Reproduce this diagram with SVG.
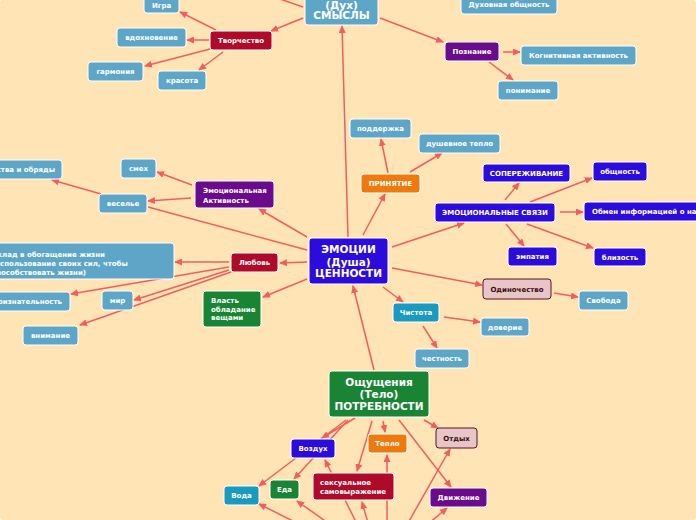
<svg xmlns="http://www.w3.org/2000/svg" width="696" height="520" viewBox="0 0 696 520">
<defs>
<marker id="ah" markerWidth="8" markerHeight="7" refX="7" refY="3.5" orient="auto" markerUnits="userSpaceOnUse"><path d="M0,0 L8,3.5 L0,7 z" fill="#f25e5e"/></marker>
<style>
.c line{stroke:#f25e5e;stroke-width:1.5;fill:none}
.c line.a{marker-end:url(#ah)}
rect{stroke:#ffffff;stroke-width:1;rx:3;ry:3}
text{font-family:"DejaVu Sans",Verdana,sans-serif;font-weight:bold;font-size:7px;fill:#ffffff;text-anchor:middle}
text.l{text-anchor:start}
text.e{text-anchor:end}
text.big{font-size:10.5px}
.sb{fill:#5ea6c8}
.bl{fill:#2c0cdc}
.pu{fill:#6a0a8c}
.cr{fill:#b00a2a}
.or{fill:#ee7a0e}
.gr{fill:#1a8435}
.te{fill:#1a9abf}
.pk{fill:#e8c6c8;stroke:#5a1020}
text.dk{fill:#3a0a12}
</style>
</defs>
<rect x="0" y="0" width="696" height="520" style="fill:#ffe4b5;stroke:none"/>
<g id="connectors" class="c">
<line x1="277" y1="-2" x2="303" y2="7"/>
<line class="a" x1="303" y1="18" x2="271" y2="31"/>
<line class="a" x1="216" y1="30" x2="180" y2="12"/>
<line class="a" x1="209" y1="40" x2="187" y2="40"/>
<line class="a" x1="210" y1="49" x2="145" y2="66"/>
<line class="a" x1="223" y1="52" x2="199" y2="70"/>
<line class="a" x1="380" y1="18" x2="443" y2="42"/>
<line class="a" x1="503" y1="52" x2="520" y2="52"/>
<line class="a" x1="489" y1="62" x2="513" y2="80"/>
<line class="a" x1="348" y1="237" x2="342" y2="26"/>
<line class="a" x1="363" y1="235" x2="385" y2="194"/>
<line class="a" x1="388" y1="173" x2="381" y2="139"/>
<line class="a" x1="410" y1="172" x2="442" y2="153"/>
<line class="a" x1="392" y1="247" x2="464" y2="223"/>
<line class="a" x1="505" y1="200" x2="519" y2="183"/>
<line class="a" x1="530" y1="202" x2="592" y2="178"/>
<line class="a" x1="560" y1="212" x2="583" y2="212"/>
<line class="a" x1="506" y1="224" x2="524" y2="246"/>
<line class="a" x1="527" y1="224" x2="593" y2="248"/>
<line class="a" x1="392" y1="268" x2="482" y2="285"/>
<line class="a" x1="554" y1="293" x2="578" y2="297"/>
<line class="a" x1="383" y1="287" x2="403" y2="302"/>
<line class="a" x1="444" y1="317" x2="480" y2="322"/>
<line class="a" x1="423" y1="326" x2="437" y2="348"/>
<line class="a" x1="307" y1="237" x2="259" y2="209"/>
<line class="a" x1="192" y1="185" x2="157" y2="172"/>
<line class="a" x1="191" y1="198" x2="148" y2="201"/>
<line class="a" x1="101" y1="194" x2="52" y2="180"/>
<line x1="148" y1="207" x2="307" y2="250"/>
<line class="a" x1="307" y1="262" x2="280" y2="263"/>
<line class="a" x1="229" y1="262" x2="175" y2="262"/>
<line class="a" x1="229" y1="267" x2="71" y2="294"/>
<line class="a" x1="229" y1="270" x2="134" y2="300"/>
<line class="a" x1="231" y1="272" x2="80" y2="325"/>
<line class="a" x1="307" y1="279" x2="263" y2="297"/>
<line class="a" x1="374" y1="370" x2="353" y2="286"/>
<line class="a" x1="346" y1="420" x2="259" y2="486"/>
<line class="a" x1="348" y1="420" x2="294" y2="479"/>
<line class="a" x1="355" y1="418" x2="322" y2="438"/>
<line class="a" x1="383" y1="421" x2="385" y2="432"/>
<line class="a" x1="372" y1="421" x2="357" y2="471"/>
<line class="a" x1="424" y1="420" x2="438" y2="428"/>
<line class="a" x1="399" y1="420" x2="451" y2="487"/>
<line class="a" x1="311" y1="530" x2="259" y2="504"/>
<line class="a" x1="338" y1="530" x2="297" y2="501"/>
<line class="a" x1="360" y1="530" x2="325" y2="460"/>
<line class="a" x1="370" y1="530" x2="362" y2="502"/>
<line class="a" x1="387" y1="530" x2="387" y2="455"/>
<line class="a" x1="404" y1="530" x2="450" y2="449"/>
<line class="a" x1="421" y1="530" x2="447" y2="508"/>
</g>
<g id="dukh"><rect class="sb" x="305" y="-20" width="73" height="45"/><text class="big" x="341.5" y="8.5">(Дух)</text><text class="big" x="341.5" y="19">СМЫСЛЫ</text></g>
<g id="igra"><rect class="sb" x="144" y="-6" width="35" height="19"/><text x="161.5" y="7.5">Игра</text></g>
<g id="dukh_obsh"><rect class="sb" x="461" y="-6" width="96" height="20"/><text x="509" y="7">Духовная общность</text></g>
<g id="tvorch"><rect class="cr" x="210" y="31" width="62" height="19"/><text x="241" y="43">Творчество</text></g>
<g id="vdokh"><rect class="sb" x="117" y="28" width="69" height="19"/><text x="151.5" y="40">вдохновение</text></g>
<g id="garm"><rect class="sb" x="88" y="62" width="55" height="19"/><text x="115.5" y="74">гармония</text></g>
<g id="krasota"><rect class="sb" x="158" y="71" width="48" height="19"/><text x="182" y="83">красота</text></g>
<g id="poznanie"><rect class="pu" x="445" y="42" width="54" height="19"/><text x="472" y="54">Познание</text></g>
<g id="kognit"><rect class="sb" x="521" y="46" width="115" height="19"/><text x="578.5" y="58">Когнитивная активность</text></g>
<g id="ponim"><rect class="sb" x="498" y="81" width="60" height="19"/><text x="528" y="93">понимание</text></g>
<g id="emocii"><rect class="bl" x="309" y="238" width="79" height="46"/><text class="big" x="348.5" y="253">ЭМОЦИИ</text><text class="big" x="348.5" y="265.5">(Душа)</text><text class="big" x="348.5" y="277">ЦЕННОСТИ</text></g>
<g id="podderzhka"><rect class="sb" x="350" y="119" width="61" height="19"/><text x="380.5" y="131">поддержка</text></g>
<g id="dush_teplo"><rect class="sb" x="419" y="134" width="81" height="19"/><text x="459.5" y="146">душевное тепло</text></g>
<g id="prinyatie"><rect class="or" x="361" y="174" width="59" height="19"/><text x="390.5" y="186">ПРИНЯТИЕ</text></g>
<g id="soperezh"><rect class="bl" x="483" y="164" width="87" height="18"/><text x="526.5" y="175.5">СОПЕРЕЖИВАНИЕ</text></g>
<g id="em_svyazi"><rect class="bl" x="435" y="203" width="120" height="19"/><text x="495" y="215">ЭМОЦИОНАЛЬНЫЕ СВЯЗИ</text></g>
<g id="obshnost"><rect class="bl" x="593" y="162" width="54" height="19"/><text x="620" y="174">общность</text></g>
<g id="obmen"><rect class="bl" x="584" y="202" width="130" height="19"/><text class="l" x="592" y="214">Обмен информацией о на</text></g>
<g id="empatiya"><rect class="bl" x="508" y="247" width="49" height="19"/><text x="532.5" y="259">эмпатия</text></g>
<g id="blizost"><rect class="bl" x="594" y="248" width="52" height="18"/><text x="620" y="260">близость</text></g>
<g id="odinoch"><rect class="pk" x="483" y="279" width="68" height="20"/><text class="dk" x="517" y="291.5">Одиночество</text></g>
<g id="svoboda"><rect class="sb" x="579" y="291" width="49" height="19"/><text x="603.5" y="303">Свобода</text></g>
<g id="chistota"><rect class="te" x="393" y="303" width="46" height="19"/><text x="416" y="315">Чистота</text></g>
<g id="doverie"><rect class="sb" x="481" y="318" width="48" height="18"/><text x="505" y="329.5">доверие</text></g>
<g id="chestnost"><rect class="sb" x="415" y="349" width="54" height="19"/><text x="442" y="361">честность</text></g>
<g id="smeh"><rect class="sb" x="121" y="159" width="35" height="19"/><text x="138.5" y="171">смех</text></g>
<g id="obryady"><rect class="sb" x="-20" y="160" width="82" height="19"/><text class="e" x="55" y="172">ства и обряды</text></g>
<g id="vesele"><rect class="sb" x="99" y="194" width="48" height="19"/><text x="123" y="206">веселье</text></g>
<g id="em_akt"><rect class="pu" x="195" y="181" width="79" height="27"/><text class="l" x="203" y="193">Эмоциональная</text><text class="l" x="203" y="202.5">Активность</text></g>
<g id="lyubov"><rect class="cr" x="231" y="253" width="47" height="19"/><text x="254.5" y="265">Любовь</text></g>
<g id="vklad"><rect class="sb" x="-20" y="243" width="194" height="36"/><text class="l" x="-8" y="257">Вклад в обогащение жизни</text><text class="l" x="-8" y="266">(использование своих сил, чтобы</text><text class="l" x="-8" y="274.5">способствовать жизни)</text></g>
<g id="priznat"><rect class="sb" x="-20" y="292" width="90" height="19"/><text class="e" x="62" y="304">признательность</text></g>
<g id="mir"><rect class="sb" x="102" y="291" width="31" height="19"/><text x="117.5" y="303">мир</text></g>
<g id="vnimanie"><rect class="sb" x="23" y="326" width="55" height="19"/><text x="50.5" y="338">внимание</text></g>
<g id="vlast"><rect class="gr" x="203" y="291" width="58" height="36"/><text class="l" x="211" y="303">Власть</text><text class="l" x="211" y="311.7">обладание</text><text class="l" x="211" y="320">вещами</text></g>
<g id="oshush"><rect class="gr" x="329" y="371" width="100" height="46"/><text class="big" x="379" y="386">Ощущения</text><text class="big" x="379" y="398">(Тело)</text><text class="big" x="379" y="409.5">ПОТРЕБНОСТИ</text></g>
<g id="vozduh"><rect class="bl" x="291" y="439" width="44" height="19"/><text x="313" y="451">Воздух</text></g>
<g id="teplo"><rect class="or" x="368" y="434" width="39" height="19"/><text x="387.5" y="446">Тепло</text></g>
<g id="otdyh"><rect class="pk" x="436" y="428" width="41" height="20"/><text class="dk" x="456.5" y="440.5">Отдых</text></g>
<g id="voda"><rect class="te" x="224" y="486" width="35" height="19"/><text x="241.5" y="498">Вода</text></g>
<g id="eda"><rect class="gr" x="270" y="480" width="29" height="19"/><text x="284.5" y="492">Еда</text></g>
<g id="seks"><rect class="cr" x="313" y="473" width="81" height="27"/><text class="l" x="320" y="485">сексуальное</text><text class="l" x="320" y="494">самовыражение</text></g>
<g id="dvizh"><rect class="pu" x="430" y="488" width="57" height="19"/><text x="458.5" y="500">Движение</text></g>
</svg>
